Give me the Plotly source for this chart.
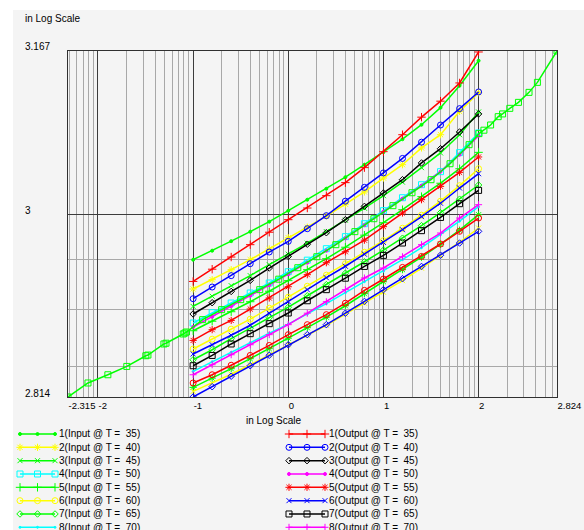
import math
import plotly.graph_objects as go

# ---------------- data (log10 values) ----------------
X_POINTS = [-1.0, -0.8, -0.6, -0.4, -0.2, 0.0, 0.2, 0.4, 0.6, 0.8, 1.0, 1.2, 1.4, 1.6, 1.8, 2.0]

IN1 = [2.9541, 2.9633, 2.9730, 2.9827, 2.9929, 3.0041, 3.0153, 3.0265, 3.0383, 3.0510, 3.0638, 3.0770, 3.0918, 3.1092, 3.1316, 3.1571]
IN2 = [2.9242, 2.9337, 2.9439, 2.9541, 2.9650, 2.9765, 2.9872, 2.9985, 3.0107, 3.0232, 3.0374, 3.0510, 3.0681, 3.0816, 3.1054, 3.1245]
IN3 = [2.9064, 2.9168, 2.9276, 2.9378, 2.9490, 2.9597, 2.9709, 2.9827, 2.9944, 3.0066, 3.0194, 3.0332, 3.0480, 3.0630, 3.0816, 3.1048]
IN4 = [2.8895, 2.9000, 2.9099, 2.9201, 2.9303, 2.9418, 2.9536, 2.9653, 2.9776, 2.9908, 3.0041, 3.0173, 3.0306, 3.0439, 3.0633, 3.0834]
IN5 = [2.8816, 2.8913, 2.9010, 2.9112, 2.9219, 2.9327, 2.9439, 2.9551, 2.9668, 2.9791, 2.9918, 3.0051, 3.0184, 3.0321, 3.0469, 3.0636]
IN6 = [2.8630, 2.8730, 2.8832, 2.8934, 2.9046, 2.9158, 2.9270, 2.9383, 2.9500, 2.9617, 2.9735, 2.9862, 2.9995, 3.0138, 3.0296, 3.0469]
IN7 = [2.8520, 2.8622, 2.8735, 2.8842, 2.8949, 2.9056, 2.9173, 2.9286, 2.9403, 2.9520, 2.9638, 2.9760, 2.9888, 3.0020, 3.0158, 3.0303]
IN8 = [2.8401, 2.8500, 2.8597, 2.8694, 2.8791, 2.8883, 2.8985, 2.9092, 2.9204, 2.9316, 2.9423, 2.9541, 2.9663, 2.9796, 2.9934, 3.0082]
IN9 = [2.8238, 2.8332, 2.8429, 2.8531, 2.8633, 2.8740, 2.8847, 2.8954, 2.9071, 2.9194, 2.9316, 2.9439, 2.9566, 2.9699, 2.9842, 3.0000]
IN10 = [2.8197, 2.8281, 2.8372, 2.8469, 2.8571, 2.8673, 2.8770, 2.8872, 2.8985, 2.9097, 2.9209, 2.9327, 2.9454, 2.9582, 2.9719, 2.9864]

OUT1 = [2.9319, 2.9444, 2.9568, 2.9694, 2.9821, 2.9949, 3.0068, 3.0194, 3.0327, 3.0480, 3.0643, 3.0816, 3.0995, 3.1158, 3.1344, 3.1660]
OUT2 = [2.9143, 2.9262, 2.9378, 2.9500, 2.9619, 2.9728, 2.9857, 2.9990, 3.0138, 3.0279, 3.0426, 3.0574, 3.0740, 3.0915, 3.1082, 3.1252]
OUT3 = [2.8987, 2.9102, 2.9217, 2.9330, 2.9456, 2.9574, 2.9699, 2.9816, 2.9949, 3.0085, 3.0221, 3.0357, 3.0528, 3.0673, 3.0844, 3.1028]
OUT4 = [2.8854, 2.8959, 2.9066, 2.9173, 2.9281, 2.9393, 2.9510, 2.9633, 2.9760, 2.9893, 3.0031, 3.0163, 3.0296, 3.0439, 3.0612, 3.0806]
OUT5 = [2.8717, 2.8827, 2.8921, 2.9038, 2.9150, 2.9265, 2.9388, 2.9510, 2.9622, 2.9740, 2.9878, 3.0017, 3.0153, 3.0289, 3.0432, 3.0589]
OUT6 = [2.8579, 2.8673, 2.8770, 2.8872, 2.8995, 2.9112, 2.9235, 2.9357, 2.9474, 2.9597, 2.9717, 2.9847, 2.9980, 3.0117, 3.0272, 3.0418]
OUT7 = [2.8459, 2.8564, 2.8681, 2.8786, 2.8888, 2.8997, 2.9122, 2.9235, 2.9352, 2.9472, 2.9585, 2.9711, 2.9837, 2.9972, 3.0112, 3.0248]
OUT8 = [2.8367, 2.8469, 2.8571, 2.8673, 2.8776, 2.8878, 2.8995, 2.9112, 2.9235, 2.9354, 2.9456, 2.9571, 2.9694, 2.9813, 2.9966, 3.0102]
OUT9 = [2.8283, 2.8367, 2.8464, 2.8564, 2.8666, 2.8776, 2.8878, 2.8980, 2.9097, 2.9228, 2.9344, 2.9462, 2.9574, 2.9701, 2.9830, 2.9966]
OUT10 = [2.8140, 2.8245, 2.8352, 2.8459, 2.8566, 2.8673, 2.8776, 2.8878, 2.8995, 2.9115, 2.9235, 2.9347, 2.9472, 2.9587, 2.9711, 2.9830]

# long reference curve (green squares) spanning the full axis range
LONG_X = [-2.315, -2.105, -1.896, -1.697, -1.497, -1.475, -1.307, -1.285, -1.104, -1.087, -1.07,
          -0.9, -0.7, -0.5, -0.3, -0.1, 0.1, 0.3, 0.5, 0.7, 0.9, 1.1, 1.3, 1.5, 1.7, 1.9,
          2.004, 2.056, 2.126, 2.206, 2.252, 2.328, 2.419, 2.530, 2.618, 2.824]
LONG_Y = [2.8140, 2.8283, 2.8367, 2.8452, 2.8561, 2.8568, 2.8681, 2.8689, 2.8783, 2.8793, 2.8803,
          2.8929, 2.9031, 2.9133, 2.9235, 2.9342, 2.9459, 2.9571, 2.9694, 2.9827, 2.9959, 3.0092, 3.0224, 3.0357, 3.0520, 3.0714,
          3.0827, 3.0862, 3.0915, 3.1000, 3.1028, 3.1085, 3.1146, 3.1248, 3.1350, 3.1670]

TEMPS = [35, 40, 45, 50, 55, 60, 65, 70, 75, 80]
INPUTS = [IN1, IN2, IN3, IN4, IN5, IN6, IN7, IN8, IN9, IN10]
OUTPUTS = [OUT1, OUT2, OUT3, OUT4, OUT5, OUT6, OUT7, OUT8, OUT9, OUT10]

X_TICKS = [-2.315, -2, -1, 0, 1, 2, 2.824]
X_TICK_TEXT = ["-2.315", "-2", "-1", "0", "1", "2", "2.824"]
Y_TICKS = [3.167, 3, 2.814]
Y_TICK_TEXT = ["3.167", "3", "2.814"]
X_RANGE = [-2.315, 2.824]
Y_RANGE = [2.814, 3.167]

# ---------------- styles ----------------
GREEN, YELLOW, CYAN = "#00FF00", "#FFFF00", "#00FFFF"
RED, BLUE, BLACK, MAGENTA = "#FF0000", "#0000FF", "#000000", "#FF00FF"

IN_STYLE = [
    (GREEN, "circle", 3), (YELLOW, "asterisk-open", 6), (GREEN, "x-thin-open", 5),
    (CYAN, "square-open", 6), (GREEN, "cross-thin-open", 6), (YELLOW, "circle-open", 6),
    (GREEN, "diamond-open", 5), (CYAN, "circle", 2), (GREEN, "asterisk-open", 6),
    (YELLOW, "x-thin-open", 5),
]
OUT_STYLE = [
    (RED, "cross-thin-open", 6), (BLUE, "circle-open", 6), (BLACK, "diamond-open", 5),
    (MAGENTA, "circle", 3), (RED, "asterisk-open", 6), (BLUE, "x-thin-open", 5),
    (BLACK, "square-open", 6), (MAGENTA, "cross-thin-open", 5), (RED, "circle-open", 6),
    (BLUE, "diamond-open", 5),
]
LONG_STYLE = (GREEN, "square-open", 6)

FONT = "Liberation Sans"
W, H = 584, 530
PLOT_L, PLOT_R, PLOT_T, PLOT_B = 68, 557, 51, 397
LW = 1.5

fig = go.Figure()


def add_series(x, y, name, style, xa="x", ya="y"):
    color, sym, size = style
    fig.add_trace(go.Scatter(
        x=x, y=y, name=name, mode="lines+markers", xaxis=xa, yaxis=ya,
        line=dict(color=color, width=LW),
        marker=dict(symbol=sym, size=size, color=color, line=dict(color=color, width=1)),
        showlegend=False,
    ))


# main series
for i in range(len(TEMPS)):
    add_series(X_POINTS, INPUTS[i], f"{i+1}(Input @ T =\u00a0 {TEMPS[i]})", IN_STYLE[i])
for i in range(len(TEMPS)):
    add_series(X_POINTS, OUTPUTS[i], f"{i+1}(Output @ T =\u00a0 {TEMPS[i]})", OUT_STYLE[i])
add_series(LONG_X, LONG_Y, "Reference", LONG_STYLE)

# ---------------- manual two-column legend ----------------
VISIBLE_ROWS = 8
annotations = []
for names_kind, styles, x0, x1, xt in [("Input", IN_STYLE, 20, 55, 57), ("Output", OUT_STYLE, 289, 325, 327)]:
    for r in range(VISIBLE_ROWS):
        add_series([x0, (x0 + x1) / 2, x1], [r, r, r], "", styles[r], xa="x2", ya="y2")
        annotations.append(dict(
            xref="x2", yref="y2", x=xt, y=r, xanchor="left", yanchor="middle",
            text=f"{r+1}({names_kind} @ T =\u00a0 {TEMPS[r]})", showarrow=False,
            font=dict(family=FONT, size=10, color="#000000")))

# axis titles and y tick labels
annotations.append(dict(xref="paper", yref="paper", x=23 / W, y=1 - 19 / H, xanchor="left", yanchor="middle",
                        text="in Log Scale", showarrow=False, font=dict(family=FONT, size=10, color="#000")))
annotations.append(dict(xref="paper", yref="paper", x=273 / W, y=1 - 420 / H, xanchor="center", yanchor="middle",
                        text="in Log Scale", showarrow=False, font=dict(family=FONT, size=10, color="#000")))
for v, t in zip(Y_TICKS, Y_TICK_TEXT):
    annotations.append(dict(xref="paper", yref="y", x=23 / W, y=v, xanchor="left", yanchor="middle", yshift=4,
                            text=t, showarrow=False, font=dict(family=FONT, size=10, color="#000")))

# minor log grid positions
x_minor = [n + math.log10(k) for n in range(-3, 3) for k in range(2, 10)
           if X_RANGE[0] < n + math.log10(k) < X_RANGE[1]]
y_minor = [math.log10(v) for v in (700, 800, 900)]

fig.update_layout(
    width=W, height=H, autosize=False,
    margin=dict(l=0, r=0, t=0, b=0, autoexpand=False),
    paper_bgcolor="#FFFFFF", plot_bgcolor="rgba(0,0,0,0)",
    showlegend=False,
    font=dict(family=FONT, size=10, color="#000"),
    xaxis=dict(domain=[PLOT_L / W, PLOT_R / W], range=X_RANGE, tickvals=X_TICKS, ticktext=X_TICK_TEXT,
               ticklabelposition="outside right", ticks="", showgrid=True, gridcolor="#3C3C3C", gridwidth=1,
               zeroline=False, showline=True, mirror=True, linecolor="#303030", linewidth=1,
               minor=dict(tickvals=x_minor, showgrid=True, gridcolor="#A8A8A8", gridwidth=1, ticks=""),
               tickfont=dict(family=FONT, size=9.5, color="#000"), fixedrange=True, automargin=False),
    yaxis=dict(domain=[1 - PLOT_B / H, 1 - PLOT_T / H], range=Y_RANGE, tickvals=Y_TICKS, showticklabels=False,
               ticks="", showgrid=True, gridcolor="#3C3C3C", gridwidth=1, zeroline=False,
               showline=True, mirror=True, linecolor="#303030", linewidth=1,
               minor=dict(tickvals=y_minor, showgrid=True, gridcolor="#A8A8A8", gridwidth=1, ticks=""),
               fixedrange=True, automargin=False),
    xaxis2=dict(domain=[0, 1], range=[0, W], visible=False, fixedrange=True),
    yaxis2=dict(domain=[0, 1 - PLOT_B / H], range=[(H - 434) / 13.33, (PLOT_B - 434) / 13.33],
                visible=False, fixedrange=True),
    shapes=[dict(type="rect", xref="paper", yref="paper", x0=13 / W, x1=1, y0=0, y1=1 - 10 / H,
                 fillcolor="#F4F4F4", line=dict(width=0), layer="below")],
    annotations=annotations,
)

POST = ("document.body.style.margin='0';document.body.style.padding='0';"
        "document.body.style.overflow='hidden';"
        "var gd=document.getElementById('{plot_id}');"
        "Plotly.relayout(gd,{width:584,height:530});")

fig.write_html("out.html", config={"responsive": False, "displayModeBar": False}, post_script=POST)
